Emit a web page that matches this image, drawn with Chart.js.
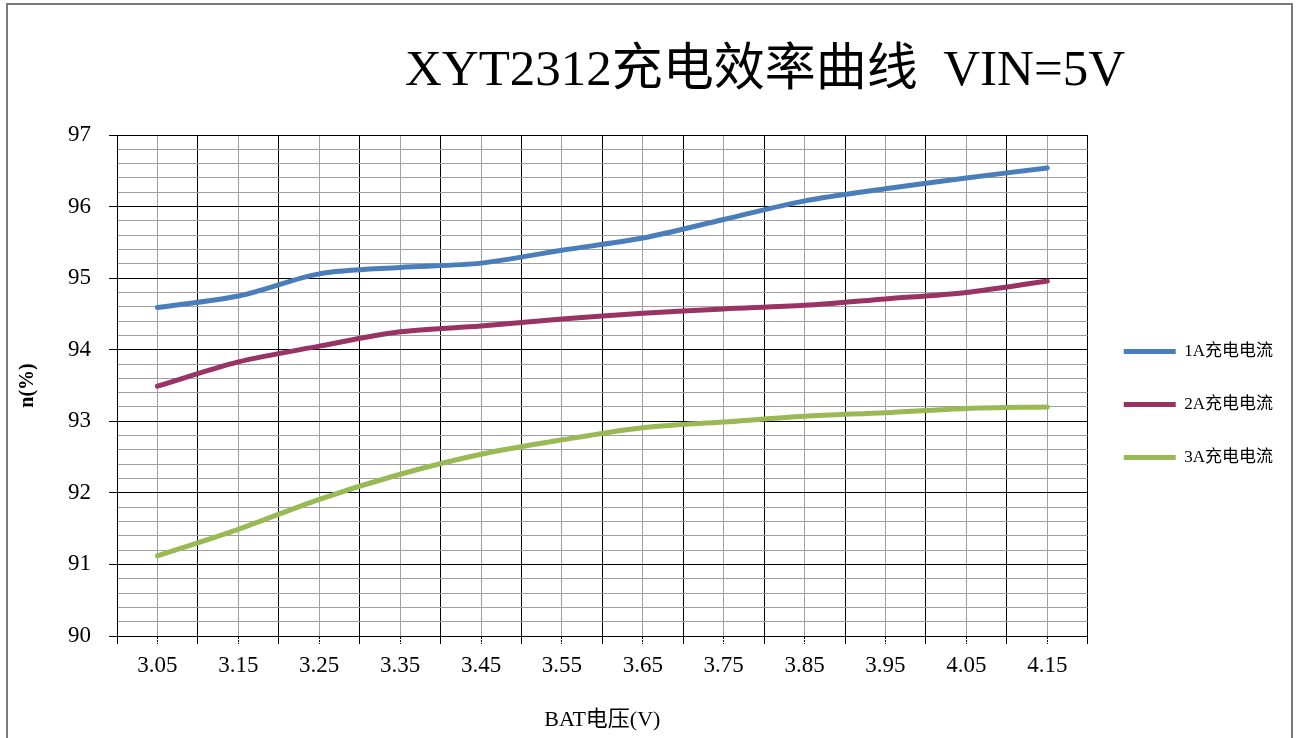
<!DOCTYPE html>
<html lang="zh-CN">
<head>
<meta charset="UTF-8">
<title>XYT2312充电效率曲线</title>
<script src="https://cdn.jsdelivr.net/npm/chart.js@4/dist/chart.umd.min.js"></script>
<style>
    html, body {
        margin: 0;
        padding: 0;
        background: #ffffff;
        overflow: hidden;
    }
    #chartWrap {
        position: relative;
        width: 1298px;
        height: 738px;
    }
    #efficiencyChart {
        display: block;
    }
    .frame {
        position: absolute;
        left: 6px;
        top: 3px;
        width: 1287px;
        height: 800px;
        border: 2px solid #7a7a7a;
        box-sizing: border-box;
        pointer-events: none;
    }
</style>
</head>
<body>
<div id="chartWrap">
    <canvas id="efficiencyChart" width="1298" height="738"></canvas>
    <div class="frame"></div>
</div>

<script>
// Chart data
const voltages = ['3.05', '3.15', '3.25', '3.35', '3.45', '3.55', '3.65', '3.75', '3.85', '3.95', '4.05', '4.15'];
const eff1A = [94.59, 94.75, 95.06, 95.15, 95.21, 95.39, 95.56, 95.82, 96.08, 96.25, 96.40, 96.54];
const eff2A = [93.49, 93.83, 94.05, 94.25, 94.33, 94.43, 94.51, 94.57, 94.62, 94.71, 94.80, 94.96];
const eff3A = [91.12, 91.49, 91.91, 92.26, 92.54, 92.74, 92.91, 92.99, 93.07, 93.12, 93.18, 93.20];
const seriesNames = ['1A充电电流', '2A充电电流', '3A充电电流'];
const yTicks = [90, 91, 92, 93, 94, 95, 96, 97];

const chartTitle = 'XYT2312充电效率曲线  VIN=5V';
const xTitle = 'BAT电压(V)';
const yTitle = 'n(%)';

const serifFont = "'Liberation Serif', 'Noto Sans CJK SC', serif";

document.addEventListener('DOMContentLoaded', function() {
    Chart.defaults.font.family = serifFont;
    Chart.defaults.color = '#000000';
    buildChart();
});

function toPoints(values) {
    return values.map((v, i) => ({ x: parseFloat(voltages[i]), y: v }));
}

function isMajor(value) {
    return yTicks.some(t => Math.abs(t - value) < 1e-6);
}

function isCenter(value) {
    return voltages.indexOf(value.toFixed(2)) !== -1;
}

// Title drawn off-centre like the original sheet
const titlePlugin = {
    id: 'sheetTitle',
    afterDraw(chart) {
        const ctx = chart.ctx;
        ctx.save();
        ctx.font = '51px ' + serifFont;
        ctx.fillStyle = '#000000';
        ctx.textAlign = 'center';
        ctx.textBaseline = 'middle';
        ctx.fillText(chartTitle, 765, 72);
        ctx.restore();
    }
};

function buildChart() {
    const ctx = document.getElementById('efficiencyChart');
    const colors = ['#4a7ebb', '#993366', '#98b954'];
    const series = [eff1A, eff2A, eff3A];

    new Chart(ctx, {
        type: 'line',
        data: {
            datasets: series.map((values, i) => ({
                label: seriesNames[i],
                data: toPoints(values),
                borderColor: colors[i],
                backgroundColor: colors[i],
                borderWidth: 5,
                borderCapStyle: 'round',
                borderJoinStyle: 'round',
                pointRadius: 0,
                pointHoverRadius: 0,
                tension: 0.3,
                fill: false
            }))
        },
        options: {
            responsive: false,
            animation: false,
            devicePixelRatio: 1,
            layout: {
                padding: { top: 135, right: 15, bottom: 0, left: 0 }
            },
            plugins: {
                title: { display: false },
                tooltip: { enabled: false },
                legend: {
                    position: 'right',
                    fullSize: false,
                    title: {
                        display: true,
                        text: '',
                        font: { size: 10 },
                        padding: { top: 0, bottom: 26 }
                    },
                    labels: {
                        usePointStyle: true,
                        pointStyle: 'line',
                        pointStyleWidth: 52,
                        padding: 36,
                        color: '#000000',
                        font: { size: 17, family: serifFont }
                    }
                }
            },
            scales: {
                x: {
                    type: 'linear',
                    min: 3.0,
                    max: 4.2,
                    afterFit: function(scale) { scale.height = 102; },
                    ticks: {
                        stepSize: 0.05,
                        autoSkip: false,
                        maxRotation: 0,
                        padding: 8,
                        font: { size: 23 },
                        callback: function(value) {
                            return isCenter(value) ? value.toFixed(2) : '';
                        }
                    },
                    grid: {
                        color: c => isCenter(c.tick.value) ? '#a0a0a0' : '#000000',
                        tickColor: '#000000',
                        tickLength: 8,
                        lineWidth: 1,
                        tickBorderDash: c => isCenter(c.tick.value) ? [2, 1] : []
                    },
                    border: { color: '#000000', width: 1 },
                    title: {
                        display: true,
                        text: xTitle,
                        font: { size: 22 },
                        padding: { top: 0, bottom: 5 }
                    }
                },
                y: {
                    min: 90,
                    max: 97,
                    afterFit: function(scale) { scale.width = 117; },
                    ticks: {
                        stepSize: 0.2,
                        autoSkip: false,
                        padding: 18,
                        font: { size: 23 },
                        callback: function(value) {
                            return isMajor(value) ? String(Math.round(value)) : '';
                        }
                    },
                    grid: {
                        color: c => isMajor(c.tick.value) ? '#000000' : '#a0a0a0',
                        tickColor: c => isMajor(c.tick.value) ? '#000000' : 'rgba(0,0,0,0)',
                        tickLength: 8,
                        lineWidth: 1,
                        tickBorderDash: c => isMajor(c.tick.value) ? [] : [2, 1]
                    },
                    border: { color: '#000000', width: 1 },
                    title: {
                        display: true,
                        text: yTitle,
                        font: { size: 20, weight: 'bold' },
                        padding: { top: 16, bottom: 0 }
                    }
                }
            }
        },
        plugins: [titlePlugin]
    });
}
</script>
</body>
</html>
